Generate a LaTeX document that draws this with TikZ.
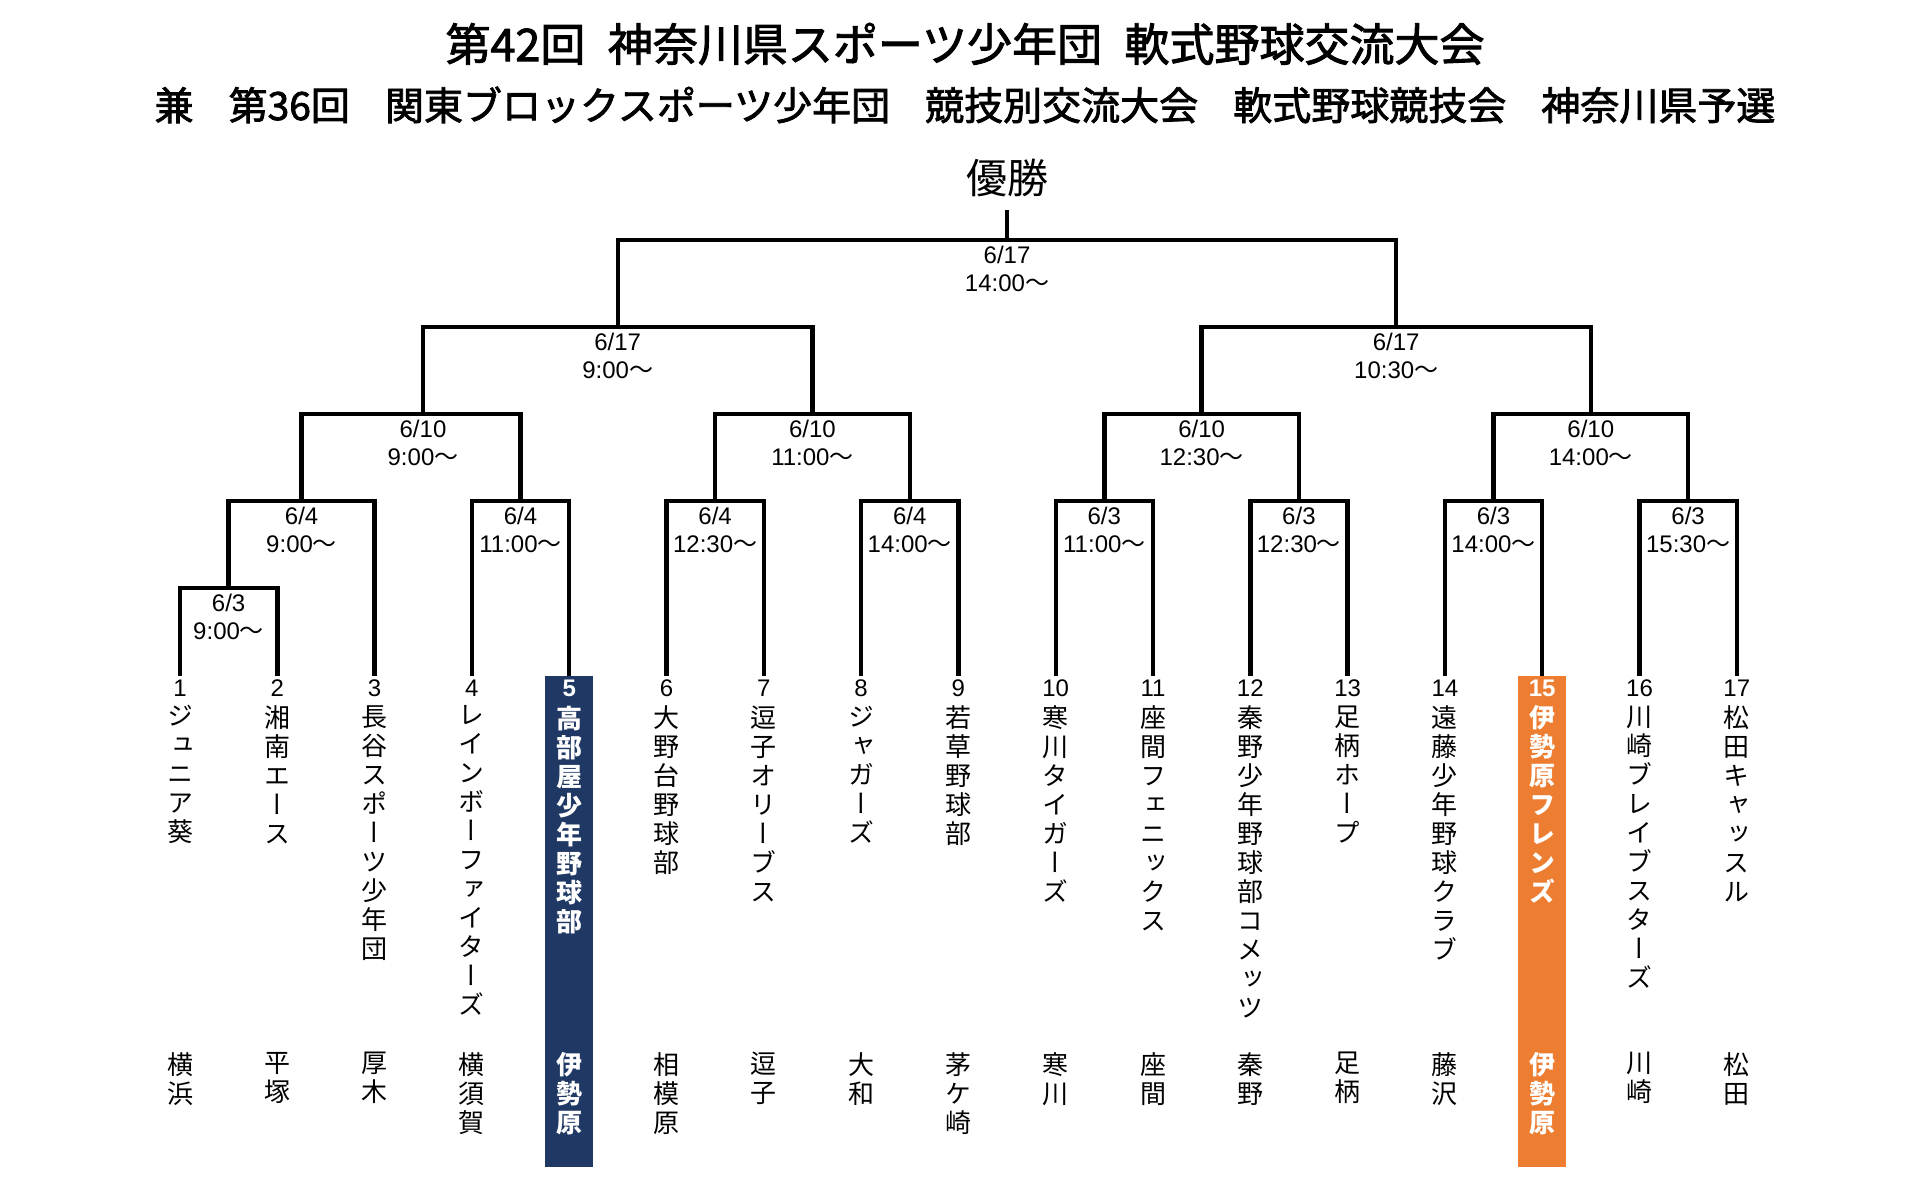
\documentclass[tikz,border=0pt]{standalone}
\usepackage{fontspec}
\setmainfont{Liberation Sans}
\newfontfamily\jp{Noto Sans CJK JP}
\newfontfamily\jpt[FakeBold=2]{Noto Sans CJK JP}
\newfontfamily\jpv[RawFeature=+vert]{Noto Sans CJK JP}
\usepackage{tikz}
\usetikzlibrary{positioning}
\definecolor{boxnavy}{RGB}{32, 56, 100}
\definecolor{boxorange}{RGB}{237, 125, 49}
\tikzstyle{title} = [inner sep=0pt, font=\jpt\fontsize{22.5pt}{24pt}\selectfont]
\tikzstyle{subtitle} = [inner sep=0pt, font=\jpt\fontsize{19.5pt}{21pt}\selectfont]
\tikzstyle{champ} = [inner sep=0pt, font=\jp\fontsize{20.5pt}{22pt}\selectfont]
\tikzstyle{bracket} = [draw, line width=2.2pt, line join=miter]
\tikzstyle{date} = [inner sep=0pt, align=center, font=\fontsize{12pt}{14pt}\selectfont]
\tikzstyle{num} = [inner sep=0pt, font=\fontsize{12pt}{14pt}\selectfont]
\tikzstyle{team} = [inner sep=0pt, align=center, execute at begin node={\rule{0pt}{11.4pt}}, font=\jpv\fontsize{13pt}{14.5pt}\selectfont]
\tikzstyle{numhl} = [num, text=white, font=\bfseries\fontsize{12pt}{14pt}\selectfont]
\tikzstyle{teamhl} = [team, text=white, font=\jpv\bfseries\fontsize{13pt}{14.5pt}\selectfont]

\begin{document}
\begin{tikzpicture}[x=0.5pt, y=-0.5pt]
\useasboundingbox (0,0) rectangle (1920,1200);

% titles =============================
\node[title] (head1) at (965,44) {第42回\enskip 神奈川県スポーツ少年団\enskip 軟式野球交流大会};
\node[subtitle] (head2) at (965,105) {兼\hspace{0.9em}第36回\hspace{0.9em}関東ブロックスポーツ少年団\hspace{0.9em}競技別交流大会\hspace{0.9em}軟式野球競技会\hspace{0.9em}神奈川県予選};
\node[champ] (champ) at (1007,178) {優勝};

% team slots =============================
\foreach \i in {1,...,17} \coordinate (p\i) at ({180+97.3*(\i-1)},676);

% highlighted teams
\fill[boxnavy] (p5) ++(-24,0) rectangle ++(48,491);
\fill[boxorange] (p15) ++(-24,0) rectangle ++(48,491);

% matches =============================
\coordinate (m1) at (228.6,588);
\coordinate (m2) at (301.6,501);
\coordinate (m3) at (520.5,501);
\coordinate (m4) at (715.1,501);
\coordinate (m5) at (909.7,501);
\coordinate (m6) at (1104.3,501);
\coordinate (m7) at (1298.9,501);
\coordinate (m8) at (1493.5,501);
\coordinate (m9) at (1688.1,501);
\coordinate (q1) at (423,414);
\coordinate (q2) at (812.4,414);
\coordinate (q3) at (1201.6,414);
\coordinate (q4) at (1590.8,414);
\coordinate (s1) at (617.7,327);
\coordinate (s2) at (1396.2,327);
\coordinate (fin) at (1007,240);
\coordinate (top) at (1007,210);

% dates
\node[date, below=3pt of m1] (dm1) {6/3\\9:00\jp{～}};
\node[date, below=3pt of m2] (dm2) {6/4\\9:00\jp{～}};
\node[date, below=3pt of m3] (dm3) {6/4\\11:00\jp{～}};
\node[date, below=3pt of m4] (dm4) {6/4\\12:30\jp{～}};
\node[date, below=3pt of m5] (dm5) {6/4\\14:00\jp{～}};
\node[date, below=3pt of m6] (dm6) {6/3\\11:00\jp{～}};
\node[date, below=3pt of m7] (dm7) {6/3\\12:30\jp{～}};
\node[date, below=3pt of m8] (dm8) {6/3\\14:00\jp{～}};
\node[date, below=3pt of m9] (dm9) {6/3\\15:30\jp{～}};
\node[date, below=3pt of q1] (dq1) {6/10\\9:00\jp{～}};
\node[date, below=3pt of q2] (dq2) {6/10\\11:00\jp{～}};
\node[date, below=3pt of q3] (dq3) {6/10\\12:30\jp{～}};
\node[date, below=3pt of q4] (dq4) {6/10\\14:00\jp{～}};
\node[date, below=3pt of s1] (ds1) {6/17\\9:00\jp{～}};
\node[date, below=3pt of s2] (ds2) {6/17\\10:30\jp{～}};
\node[date, below=3pt of fin] (dfin) {6/17\\14:00\jp{～}};

% teams =============================
\node[num, below=1.7pt of p1] (n1) {1};
\node[num, below=1.7pt of p2] (n2) {2};
\node[num, below=1.7pt of p3] (n3) {3};
\node[num, below=1.7pt of p4] (n4) {4};
\node[numhl, below=1.7pt of p5] (n5) {5};
\node[num, below=1.7pt of p6] (n6) {6};
\node[num, below=1.7pt of p7] (n7) {7};
\node[num, below=1.7pt of p8] (n8) {8};
\node[num, below=1.7pt of p9] (n9) {9};
\node[num, below=1.7pt of p10] (n10) {10};
\node[num, below=1.7pt of p11] (n11) {11};
\node[num, below=1.7pt of p12] (n12) {12};
\node[num, below=1.7pt of p13] (n13) {13};
\node[num, below=1.7pt of p14] (n14) {14};
\node[numhl, below=1.7pt of p15] (n15) {15};
\node[num, below=1.7pt of p16] (n16) {16};
\node[num, below=1.7pt of p17] (n17) {17};

\node[team, below=4.2pt of n1] (t1) {ジ\\ュ\\ニ\\ア\\葵};
\node[team, below=4.2pt of n2] (t2) {湘\\南\\エ\\ー\\ス};
\node[team, below=4.2pt of n3] (t3) {長\\谷\\ス\\ポ\\ー\\ツ\\少\\年\\団};
\node[team, below=4.2pt of n4] (t4) {レ\\イ\\ン\\ボ\\ー\\フ\\ァ\\イ\\タ\\ー\\ズ};
\node[teamhl, below=4.2pt of n5] (t5) {高\\部\\屋\\少\\年\\野\\球\\部};
\node[team, below=4.2pt of n6] (t6) {大\\野\\台\\野\\球\\部};
\node[team, below=4.2pt of n7] (t7) {逗\\子\\オ\\リ\\ー\\ブ\\ス};
\node[team, below=4.2pt of n8] (t8) {ジ\\ャ\\ガ\\ー\\ズ};
\node[team, below=4.2pt of n9] (t9) {若\\草\\野\\球\\部};
\node[team, below=4.2pt of n10] (t10) {寒\\川\\タ\\イ\\ガ\\ー\\ズ};
\node[team, below=4.2pt of n11] (t11) {座\\間\\フ\\ェ\\ニ\\ッ\\ク\\ス};
\node[team, below=4.2pt of n12] (t12) {秦\\野\\少\\年\\野\\球\\部\\コ\\メ\\ッ\\ツ};
\node[team, below=4.2pt of n13] (t13) {足\\柄\\ホ\\ー\\プ};
\node[team, below=4.2pt of n14] (t14) {遠\\藤\\少\\年\\野\\球\\ク\\ラ\\ブ};
\node[teamhl, below=4.2pt of n15] (t15) {伊\\勢\\原\\フ\\レ\\ン\\ズ};
\node[team, below=4.2pt of n16] (t16) {川\\崎\\ブ\\レ\\イ\\ブ\\ス\\タ\\ー\\ズ};
\node[team, below=4.2pt of n17] (t17) {松\\田\\キ\\ャ\\ッ\\ス\\ル};

% cities
\node[team, below=188pt of p1] (c1) {横\\浜};
\node[team, below=188pt of p2] (c2) {平\\塚};
\node[team, below=188pt of p3] (c3) {厚\\木};
\node[team, below=188pt of p4] (c4) {横\\須\\賀};
\node[teamhl, below=188pt of p5] (c5) {伊\\勢\\原};
\node[team, below=188pt of p6] (c6) {相\\模\\原};
\node[team, below=188pt of p7] (c7) {逗\\子};
\node[team, below=188pt of p8] (c8) {大\\和};
\node[team, below=188pt of p9] (c9) {茅\\ケ\\崎};
\node[team, below=188pt of p10] (c10) {寒\\川};
\node[team, below=188pt of p11] (c11) {座\\間};
\node[team, below=188pt of p12] (c12) {秦\\野};
\node[team, below=188pt of p13] (c13) {足\\柄};
\node[team, below=188pt of p14] (c14) {藤\\沢};
\node[teamhl, below=188pt of p15] (c15) {伊\\勢\\原};
\node[team, below=188pt of p16] (c16) {川\\崎};
\node[team, below=188pt of p17] (c17) {松\\田};

% brackets =============================
\path[bracket] (p1) |- (m1) -| (p2);
\path[bracket] (m1) |- (m2) -| (p3);
\path[bracket] (p4) |- (m3) -| (p5);
\path[bracket] (p6) |- (m4) -| (p7);
\path[bracket] (p8) |- (m5) -| (p9);
\path[bracket] (p10) |- (m6) -| (p11);
\path[bracket] (p12) |- (m7) -| (p13);
\path[bracket] (p14) |- (m8) -| (p15);
\path[bracket] (p16) |- (m9) -| (p17);

\path[bracket] (m2) |- (q1) -| (m3);
\path[bracket] (m4) |- (q2) -| (m5);
\path[bracket] (m6) |- (q3) -| (m7);
\path[bracket] (m8) |- (q4) -| (m9);

\path[bracket] (q1) |- (s1) -| (q2);
\path[bracket] (q3) |- (s2) -| (q4);

\path[bracket] (s1) |- (fin) -| (s2);
\path[bracket] (fin) -- (top);

\end{tikzpicture}
\end{document}
